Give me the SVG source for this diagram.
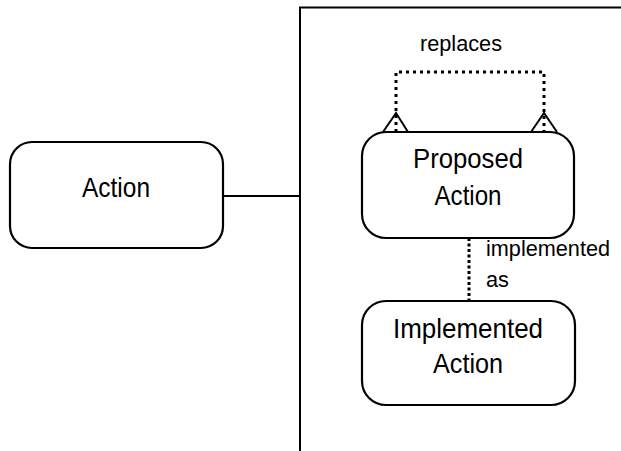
<svg xmlns="http://www.w3.org/2000/svg" width="621" height="451" viewBox="0 0 621 451">
<style>
.box{fill:#fff;stroke:#000;stroke-width:2.2}
.big{font-family:"Liberation Sans",Arial,sans-serif;font-size:28px;fill:#000;text-anchor:middle}
.small{font-family:"Liberation Sans",Arial,sans-serif;font-size:22px;fill:#000}
.solid{fill:none;stroke:#000;stroke-width:2}
.dot{fill:none;stroke:#000;stroke-width:3;stroke-dasharray:3 4}
</style>
<rect width="621" height="451" fill="#fff"/>
<g id="frame">
<path class="solid" d="M300,451 V7.5 H621"/>
</g>
<g id="connectors">
<line class="solid" x1="223" y1="196" x2="300" y2="196"/>
<path class="dot" d="M396,132 V72 H544 V132"/>
<path class="solid" d="M383,132 L396,113 L408,132"/>
<path class="solid" d="M531,132 L544,113 L557,132"/>
<line class="dot" x1="469" y1="238" x2="469" y2="301" style="stroke-dasharray:3 2.5"/>
<text class="small" x="420" y="51" textLength="82" lengthAdjust="spacingAndGlyphs">replaces</text>
<text class="small" x="486" y="256" textLength="124" lengthAdjust="spacingAndGlyphs">implemented</text>
<text class="small" x="486" y="287" textLength="23" lengthAdjust="spacingAndGlyphs">as</text>
</g>
<g id="action">
<rect class="box" x="10" y="142" width="213" height="106" rx="22"/>
<text class="big" x="116" y="197" textLength="68" lengthAdjust="spacingAndGlyphs">Action</text>
</g>
<g id="proposed">
<rect class="box" x="362" y="132" width="212" height="106" rx="24"/>
<text class="big" x="468" y="168" textLength="110" lengthAdjust="spacingAndGlyphs">Proposed</text>
<text class="big" x="468" y="205" textLength="67" lengthAdjust="spacingAndGlyphs">Action</text>
</g>
<g id="implemented">
<rect class="box" x="362" y="301" width="213" height="104" rx="24"/>
<text class="big" x="468" y="338" textLength="150" lengthAdjust="spacingAndGlyphs">Implemented</text>
<text class="big" x="468" y="373" textLength="70" lengthAdjust="spacingAndGlyphs">Action</text>
</g>
</svg>
